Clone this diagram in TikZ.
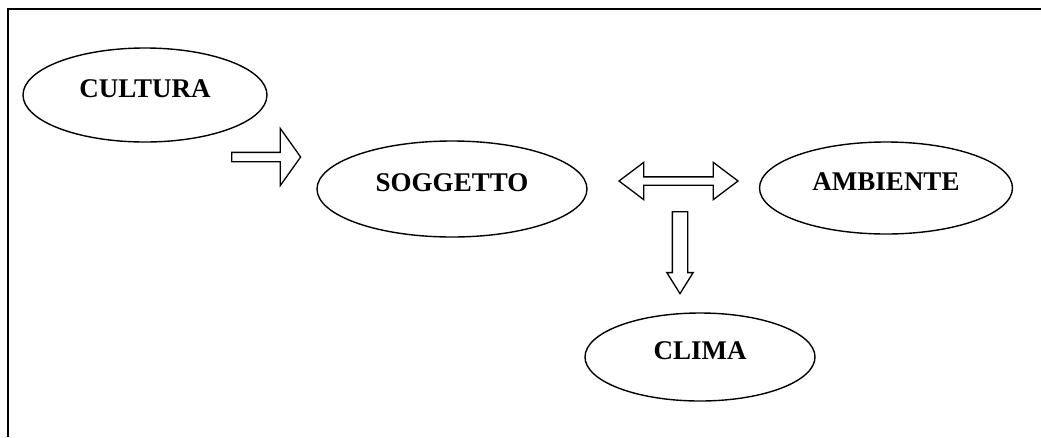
\documentclass[tikz,border=0pt]{standalone}
\usepackage{fontspec}
\setmainfont{Liberation Serif}
\usepackage{tikz}
\usetikzlibrary{shapes.geometric,shapes.arrows,positioning}

\tikzset{
  concept/.style={ellipse, draw, line width=1.4pt, text depth=12pt, inner sep=0pt,
    font=\bfseries\fontsize{27}{32}\selectfont},
  blockarrow/.style={draw, line width=1.3pt, fill=white}
}

\begin{document}
\begin{tikzpicture}[x=1pt,y=-1pt]
\useasboundingbox (0,0) rectangle (1041,437);
% frame
\draw[line width=2.4pt] (8,437) -- (8,9) -- (1041,9);

% concepts
\node[concept, minimum width=244pt, minimum height=94pt] (cultura) at (145,95) {CULTURA};
\node[concept, minimum width=270pt, minimum height=96pt] (soggetto) at (452,189) {SOGGETTO};
\node[concept, minimum width=253pt, minimum height=92pt] (ambiente) at (886,188) {AMBIENTE};
\node[concept, minimum width=230pt, minimum height=88pt] (clima) at (700,357) {CLIMA};

% block arrows
\node[blockarrow, single arrow, anchor=tail, inner sep=4pt, minimum height=69pt, minimum width=56pt,
  single arrow head extend=24pt, single arrow tip angle=109] (influsso) at (231,157) {};
\node[blockarrow, double arrow, inner sep=3.5pt, minimum height=119pt, minimum width=36pt,
  double arrow head extend=14.5pt, double arrow tip angle=74] (scambio) at (678.5,181) {};
\node[blockarrow, single arrow, shape border rotate=270, anchor=tail, inner sep=7pt, minimum height=82pt,
  minimum width=25pt, single arrow head extend=5.5pt, single arrow tip angle=64] (effetto) at (680,211) {};
\end{tikzpicture}
\end{document}
